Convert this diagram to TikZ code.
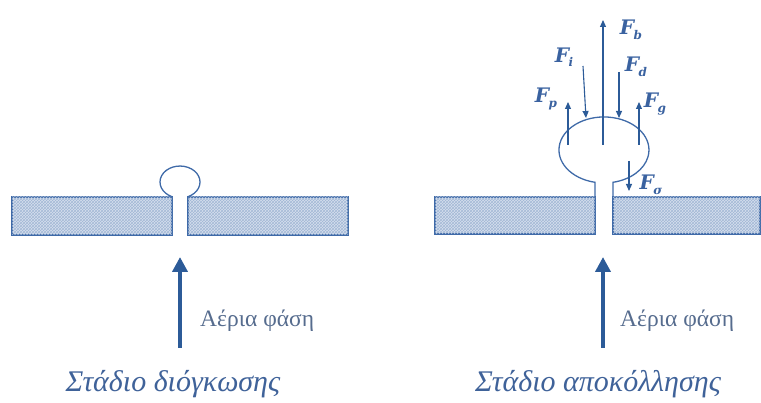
\documentclass[tikz,border=0pt]{standalone}
\usepackage{fontspec}
\setmainfont{Liberation Serif}
\newfontfamily\forcefont{DejaVu Serif}
\usetikzlibrary{arrows.meta,patterns}
\definecolor{wall}{HTML}{3F6AA8}
\definecolor{force}{HTML}{2C5B98}
\definecolor{hatchbg}{HTML}{D6E0EE}
\definecolor{hatchfg}{HTML}{A3B8D6}
\definecolor{phase}{HTML}{566C8E}
\definecolor{caption}{HTML}{3F6299}
\definecolor{flabel}{HTML}{3A62A0}
\newcommand{\forcesub}[1]{F\kern-0.5pt\raisebox{-4.5pt}{\fontsize{12}{12}\selectfont #1}}
\tikzset{
  plate/.style={draw=wall, line width=1.3pt, fill=hatchbg,
    postaction={pattern=crosshatch, pattern color=hatchfg}},
  outline/.style={draw=wall, line width=1.3pt},
  forcearrow/.style={draw=force, line width=1.1pt, -{Triangle[length=7pt,width=6pt]}},
  gasarrow/.style={draw=force, line width=4.5pt, -{Triangle[length=15pt,width=15pt]}},
  flab/.style={text=flabel, font=\forcefont\bfseries\itshape\fontsize{20}{20}\selectfont, inner sep=0pt},
  phaselab/.style={text=phase, font=\fontsize{23.5}{23.5}\selectfont, anchor=west, inner sep=0pt},
  stagelab/.style={text=caption, font=\itshape\fontsize{30}{30}\selectfont, inner sep=0pt}
}
\begin{document}
\begin{tikzpicture}[x=1pt,y=-1pt]
\useasboundingbox (0,0) rectangle (761,403);

% ---- growth stage ----
\path[plate] (12,197) rectangle (172,235);
\path[plate] (188,197) rectangle (348,235);
\draw[outline] (172,197) -- (172,196.7)
  arc[start angle=113.6, end angle=426.4, x radius=20, y radius=16] -- (188,197);

\coordinate (gasA0) at (180,348);
\coordinate (gasA1) at (180,257);
\draw[gasarrow] (gasA0) -- (gasA1);
\node[phaselab] (phaseA) at (200,321) {Αέρια φάση};
\node[stagelab] (stageA) at (173,384) {Στάδιο διόγκωσης};

% ---- detachment stage ----
\path[plate] (435,197) rectangle (595,234);
\path[plate] (613,197) rectangle (760,234);
\draw[outline] (595,197) -- (595,182.3)
  arc[start angle=101.5, end angle=438.5, x radius=45, y radius=33] -- (613,197);

% forces on the bubble
\coordinate (b0) at (603,145);  \coordinate (b1) at (603,20);
\coordinate (i0) at (583,66);   \coordinate (i1) at (586,118);
\coordinate (d0) at (619,72);   \coordinate (d1) at (619,118);
\coordinate (p0) at (568,145);  \coordinate (p1) at (568,102);
\coordinate (g0) at (639,145);  \coordinate (g1) at (639,102);
\coordinate (s0) at (629,161);  \coordinate (s1) at (629,191);
\draw[forcearrow] (b0) -- (b1);
\draw[forcearrow] (i0) -- (i1);
\draw[forcearrow] (d0) -- (d1);
\draw[forcearrow] (p0) -- (p1);
\draw[forcearrow] (g0) -- (g1);
\draw[forcearrow] (s0) -- (s1);
\node[flab] (Fb) at (631,30) {\forcesub{b}};
\node[flab] (Fi) at (564,57) {\forcesub{i}};
\node[flab] (Fd) at (636,67) {\forcesub{d}};
\node[flab] (Fp) at (546,99) {\forcesub{p}};
\node[flab] (Fg) at (655,104) {\forcesub{g}};
\node[flab] (Fs) at (651,185) {\forcesub{σ}};

\coordinate (gasB0) at (603,348);
\coordinate (gasB1) at (603,257);
\draw[gasarrow] (gasB0) -- (gasB1);
\node[phaselab] (phaseB) at (620,321) {Αέρια φάση};
\node[stagelab] (stageB) at (598,384) {Στάδιο αποκόλλησης};
\end{tikzpicture}
\end{document}
